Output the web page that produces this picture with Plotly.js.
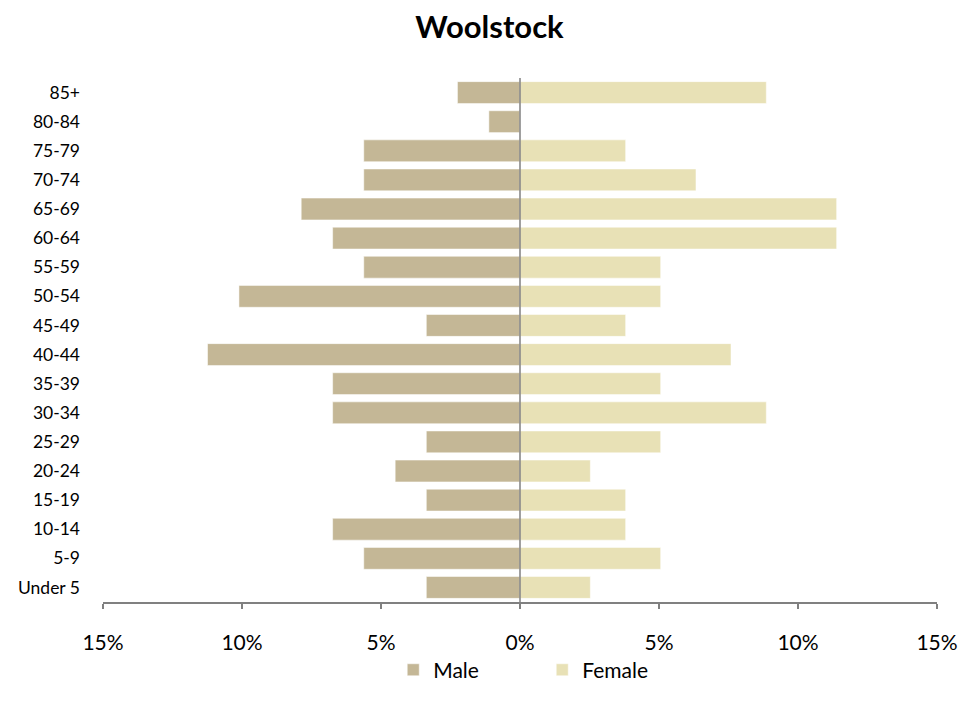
<!DOCTYPE html>
<html>
<head>
<meta charset="utf-8">
<script src="https://cdn.plot.ly/plotly-3.0.1.min.js"></script>
<style>html,body{margin:0;padding:0;background:#fff;}#chart{width:979px;height:713px;}</style>
</head>
<body>
<div id="chart"></div>
<script>
const ageGroups = ["85+","80-84","75-79","70-74","65-69","60-64","55-59","50-54","45-49","40-44","35-39","30-34","25-29","20-24","15-19","10-14","5-9","Under 5"];
const malePct = [2.25,1.12,5.62,5.62,7.87,6.74,5.62,10.11,3.37,11.24,6.74,6.74,3.37,4.49,3.37,6.74,5.62,3.37];
const femalePct = [8.86,0,3.80,6.33,11.39,11.39,5.06,5.06,3.80,7.59,5.06,8.86,5.06,2.53,3.80,3.80,5.06,2.53];
const xTickVals = [-15,-10,-5,0,5,10,15];
const xTickText = ["15%","10%","5%","0%","5%","10%","15%"];

const font = "Lato, 'Liberation Sans', sans-serif";
const traces = [
  {type:"bar", orientation:"h", name:"Male", y:ageGroups, x:malePct.map(v=>-v),
   marker:{color:"#C4B796", line:{color:"#ffffff", width:0.5}}, hoverinfo:"skip"},
  {type:"bar", orientation:"h", name:"Female", y:ageGroups, x:femalePct,
   marker:{color:"#E8E1B6", line:{color:"#ffffff", width:0.5}}, hoverinfo:"skip"}
];
const layout = {
  width:979, height:713,
  margin:{l:103, r:42, t:78, b:111, autoexpand:false},
  paper_bgcolor:"#fff", plot_bgcolor:"#fff",
  font:{family:font, size:16, color:"#000"},
  title:{text:"<b>Woolstock</b>", x:0.5, xref:"container", y:0.962, yanchor:"middle", font:{family:font, size:31, color:"#000"}},
  barmode:"overlay", bargap:0.25,
  showlegend:true,
  legend:{orientation:"h", x:0.348, xref:"paper", xanchor:"left", y:-0.13, yanchor:"middle", entrywidth:104, font:{family:font,size:21}, traceorder:"normal"},
  xaxis:{range:[-15,15], tickvals:xTickVals, ticktext:xTickText, showgrid:false, zeroline:false,
         showline:true, linecolor:"#808080", linewidth:1.5, ticks:"outside", ticklen:5, tickcolor:"#808080", tickwidth:1.5,
         ticklabelstandoff:16, tickfont:{family:font,size:21}, fixedrange:true},
  yaxis:{categoryorder:"array", categoryarray:ageGroups.slice().reverse(), showgrid:false, zeroline:false, showline:false, ticks:"",
         ticklabelstandoff:22, tickfont:{family:font,size:17.5}, fixedrange:true},
  shapes:[{type:"line", xref:"x", yref:"paper", x0:0, x1:0, y0:0, y1:1, layer:"above", line:{color:"#808080", width:1.5}}]
};
Plotly.newPlot("chart", traces, layout, {displayModeBar:false, staticPlot:true});
</script>
</body>
</html>
